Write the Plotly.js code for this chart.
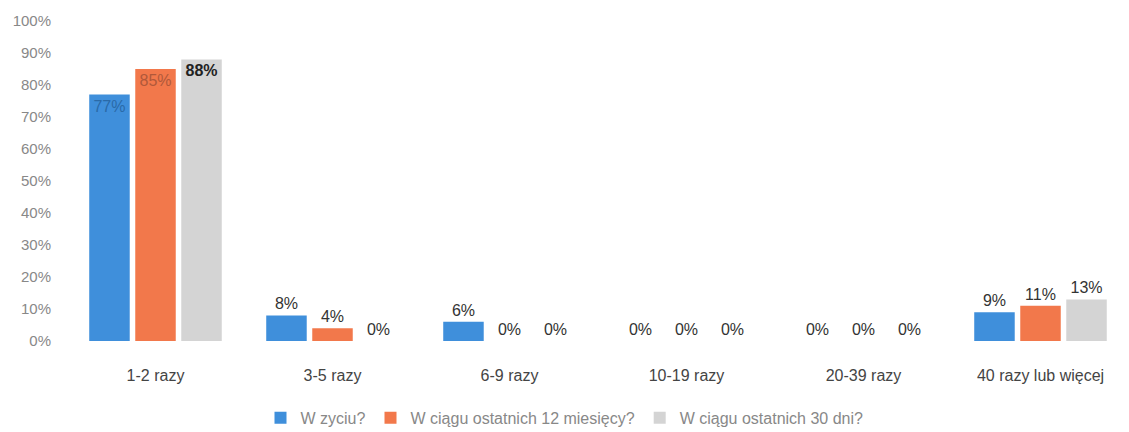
<!DOCTYPE html>
<html>
<head>
<meta charset="utf-8">
<script src="https://cdn.plot.ly/plotly-3.0.1.min.js"></script>
<style>body{margin:0;background:#fff;}#chart{width:1129px;height:432px;}</style>
</head>
<body>
<div id="chart"></div>
<script>
const categories = ["1-2 razy", "3-5 razy", "6-9 razy", "10-19 razy", "20-39 razy", "40 razy lub więcej"];
const seriesNames = ["W zyciu?", "W ciągu ostatnich 12 miesięcy?", "W ciągu ostatnich 30 dni?"];
const zycie = [77, 8, 6, 0, 0, 9];
const miesiace12 = [85, 4, 0, 0, 0, 11];
const dni30 = [88, 0, 0, 0, 0, 13];
const colors = ["#3f8fdb", "#f2784b", "#d4d4d4"];

function makeTrace(vals, name, color, firstTextColor, bold) {
  return {
    type: "bar",
    name: name,
    x: categories,
    y: vals,
    marker: {color: color},
    text: vals.map(v => v + "%"),
    textposition: vals.map((v, i) => i === 0 ? "inside" : "outside"),
    insidetextanchor: "end",
    cliponaxis: false,
    textangle: 0,
    textfont: {
      family: "Liberation Sans, Arial, sans-serif",
      size: 16,
      color: vals.map((v, i) => i === 0 ? firstTextColor : "#333333")
    },
    outsidetextfont: {family: "Liberation Sans, Arial, sans-serif", size: 16, color: "#333333"},
    insidetextfont: {family: "Liberation Sans, Arial, sans-serif", size: 16, color: firstTextColor, weight: bold ? "bold" : "normal"},
    hoverinfo: "x+y+name"
  };
}

const data = [
  makeTrace(zycie, seriesNames[0], colors[0], "#2a6aa8", false),
  makeTrace(miesiace12, seriesNames[1], colors[1], "#b0583a", false),
  makeTrace(dni30, seriesNames[2], colors[2], "#222222", true)
];

const layout = {
  width: 1129,
  height: 432,
  margin: {l: 67, r: 0, t: 21, b: 91, autoexpand: false},
  paper_bgcolor: "#ffffff",
  plot_bgcolor: "#ffffff",
  barmode: "group",
  bargap: 0.22,
  bargroupgap: 0.12,
  font: {family: "Liberation Sans, Arial, sans-serif", color: "#555"},
  showlegend: true,
  legend: {
    orientation: "h",
    x: 0.5, xanchor: "center", xref: "container",
    y: 0.033, yanchor: "middle", yref: "container",
    font: {size: 16, color: "#888"},
    itemwidth: 30,
    traceorder: "normal"
  },
  xaxis: {
    type: "category",
    showgrid: false,
    showline: false,
    zeroline: false,
    ticks: "outside",
    ticklen: 20,
    tickcolor: "rgba(0,0,0,0)",
    tickfont: {size: 16, color: "#444"}
  },
  yaxis: {
    range: [0, 100],
    dtick: 10,
    ticksuffix: "%",
    showgrid: false,
    zeroline: false,
    showline: false,
    ticks: "outside",
    ticklen: 12,
    tickcolor: "rgba(0,0,0,0)",
    tickfont: {size: 15, color: "#888"}
  }
};

Plotly.newPlot("chart", data, layout, {displayModeBar: false, staticPlot: true});
</script>
</body>
</html>
